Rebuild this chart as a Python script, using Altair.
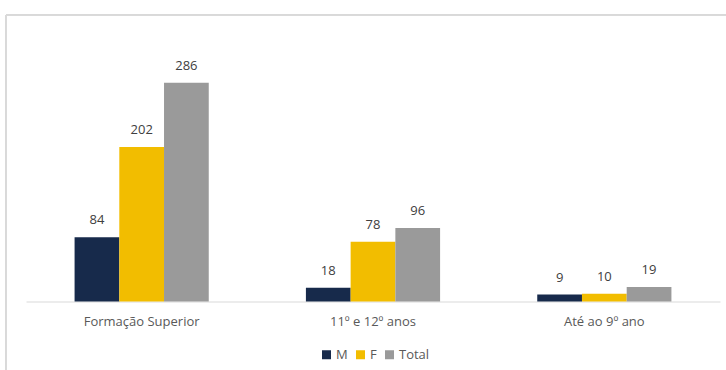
import altair as alt
import pandas as pd

categories = ["Formação Superior", "11º e 12º anos", "Até ao 9º ano"]
series = ["M", "F", "Total"]
values_M = [84, 18, 9]
values_F = [202, 78, 10]
values_Total = [286, 96, 19]
colors = ["#172a4b", "#f2bd00", "#9a9a9a"]

rows = []
for i, c in enumerate(categories):
    for s, vals in zip(series, [values_M, values_F, values_Total]):
        rows.append({"cat": c, "serie": s, "valor": vals[i]})
df = pd.DataFrame(rows)

FONT = "Open Sans"

x = alt.X("cat:N", sort=categories, title=None,
          scale=alt.Scale(paddingInner=0.42, paddingOuter=0.21),
          axis=alt.Axis(labelAngle=0, ticks=False, domainColor="#d9d9d9",
                        labelColor="#595959", labelFontSize=13, labelFont=FONT,
                        labelPadding=14))
xo = alt.XOffset("serie:N", sort=series, scale=alt.Scale(paddingInner=0, paddingOuter=0))
y = alt.Y("valor:Q", scale=alt.Scale(domain=[0, 300]), axis=None)

base = alt.Chart(df).encode(x=x, xOffset=xo, y=y)

bars = base.mark_bar().encode(
    color=alt.Color("serie:N", sort=series,
                    scale=alt.Scale(domain=series, range=colors),
                    legend=alt.Legend(title=None, orient="none", direction="horizontal",
                                      legendX=294, legendY=276, symbolType="square",
                                      symbolSize=81, symbolStrokeWidth=0,
                                      labelFontSize=13, labelColor="#595959", labelFont=FONT,
                                      labelOffset=3, columnPadding=6))
)

labels = base.mark_text(baseline="bottom", dy=-10, fontSize=13, color="#404040", font=FONT).encode(
    text=alt.Text("valor:Q")
)

frame_top = alt.Chart(df).mark_rule(color="#d9d9d9", strokeWidth=1).encode(
    x=alt.value(-20), x2=alt.value(720), y=alt.value(-57)
)
frame_left = alt.Chart(df).mark_rule(color="#d9d9d9", strokeWidth=1).encode(
    x=alt.value(-20), y=alt.value(-57), y2=alt.value(320)
)

chart = alt.layer(bars, labels, frame_top, frame_left).properties(
    width=694, height=229.5,
    autosize=alt.AutoSizeParams(type="none"),
    padding={"left": 26, "top": 72, "right": 6, "bottom": 68},
).configure(background="white").configure_view(strokeWidth=0, stroke=None)

chart.save("out.html", embed_options={"renderer": "svg", "actions": False})
